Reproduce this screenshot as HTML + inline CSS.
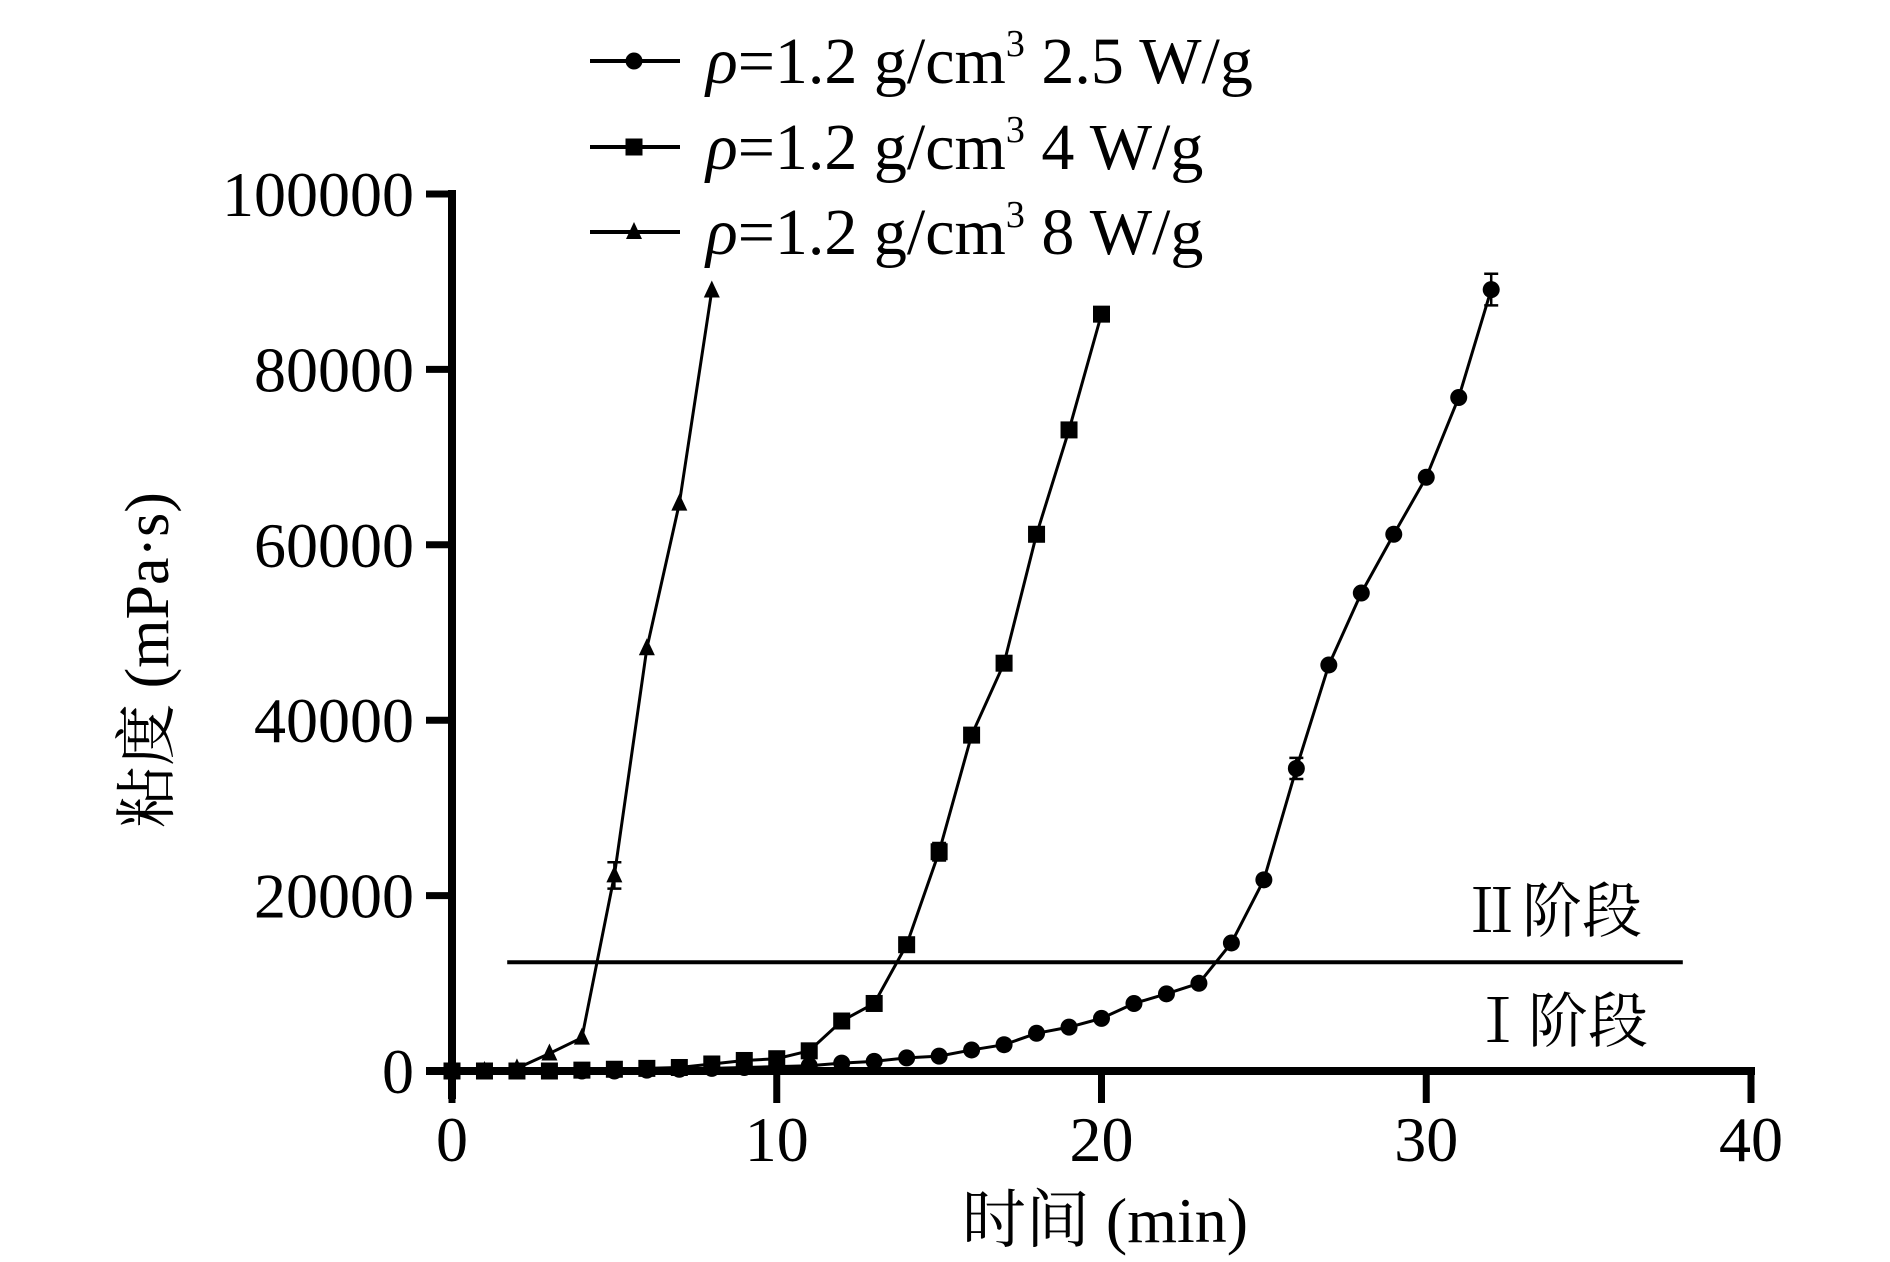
<!DOCTYPE html>
<html><head><meta charset="utf-8">
<style>
html,body{margin:0;padding:0;background:#fff;}
svg{display:block;}
text{font-family:"Liberation Serif","Noto Serif CJK SC","Noto Sans CJK SC",serif;fill:#000;}
</style></head>
<body>
<svg id="chart" width="1890" height="1262" viewBox="0 0 1890 1262" xmlns="http://www.w3.org/2000/svg">
  <g id="plot"></g>
  <g id="axes"></g>
  <g id="legend"></g>
</svg>
<script>
const xTicks = [0, 10, 20, 30, 40];
const yTicks = [0, 20000, 40000, 60000, 80000, 100000];
const tA = [0,1,2,3,4,5,6,7,8,9,10,11,12,13,14,15,16,17,18,19,20,21,22,23,24,25,26,27,28,29,30,31,32];
const vA = [0,0,0,0,0,0,100,200,300,400,500,600,900,1100,1500,1700,2400,3000,4300,5000,6000,7700,8800,10000,14600,21800,34500,46300,54500,61200,67700,76800,89100];
const eA = [0,0,0,0,0,0,0,0,0,0,0,0,0,0,0,0,0,0,0,0,0,0,0,0,0,0,1200,0,0,0,0,0,1800];
const tB = [0,1,2,3,4,5,6,7,8,9,10,11,12,13,14,15,16,17,18,19,20];
const vB = [0,0,0,0,100,200,300,400,800,1200,1400,2300,5700,7700,14400,25000,38300,46500,61200,73100,86300];
const eB = [0,0,0,0,0,0,0,0,0,0,0,0,0,0,0,1000,0,0,0,0,0];
const tC = [0,1,2,3,4,5,6,7,8];
const vC = [0,0,300,2000,3800,22300,48200,64700,89000];
const eC = [0,0,0,0,0,1500,0,0,0];
const stageThreshold = 12400;
const stageStart = 1.7, stageEnd = 37.9;

const NS = "http://www.w3.org/2000/svg";
const X0 = 452, X1 = 1751, Y0 = 1071, Y1 = 194;
function sx(t){ return X0 + (t - 0) / 40 * (X1 - X0); }
function sy(v){ return Y0 - v / 100000 * (Y0 - Y1); }
function mk(tag, attrs, parent){
  const e = document.createElementNS(NS, tag);
  for (const k in attrs) e.setAttribute(k, attrs[k]);
  parent.appendChild(e);
  return e;
}
const plot = document.getElementById('plot');
const axes = document.getElementById('axes');
const legend = document.getElementById('legend');

const sl = mk('line', {x1: sx(stageStart), x2: sx(stageEnd), y1: sy(stageThreshold), y2: sy(stageThreshold), stroke:'#000','stroke-width':4}, plot);



function marker(kind, cx, cy, g){
  let m;
  if (kind === 'circle') m = mk('circle', {cx, cy, r: 8.5, fill:'#000'}, g);
  else if (kind === 'square') m = mk('rect', {x: cx-8.5, y: cy-8.5, width: 17, height: 17, fill:'#000'}, g);
  else m = mk('polygon', {points: `${cx},${cy-10} ${cx-8},${cy+7} ${cx+8},${cy+7}`, fill:'#000'}, g);
  return m;
}
function series(ts, vs, es, kind, name){
  const g = mk('g', {}, plot);
  
  
  const pts = ts.map((t,i)=> sx(t)+','+sy(vs[i])).join(' ');
  const pl = mk('polyline', {points: pts, fill:'none', stroke:'#000', 'stroke-width':3, 'stroke-linejoin':'round'}, g);
  
  
  ts.forEach((t,i)=>{
    if (es[i] > 0){
      const x = sx(t), a = sy(vs[i]+es[i]), b = sy(vs[i]-es[i]);
      const eb = mk('path', {d:`M${x},${a}V${b}M${x-7},${a}H${x+7}M${x-7},${b}H${x+7}`, stroke:'#000','stroke-width':2.5, fill:'none'}, g);
      
      
    }
    const m = marker(kind, sx(t), sy(vs[i]), g);
    
    
  });
}
series(tA, vA, eA, 'circle', 'series-2-5-wg');
series(tB, vB, eB, 'square', 'series-4-wg');
series(tC, vC, eC, 'triangle', 'series-8-wg');

const ya = mk('line', {x1:X0, x2:X0, y1:Y1-4, y2:Y0+28, stroke:'#000','stroke-width':8}, axes);


const xa = mk('line', {x1:X0-26, x2:X1+4, y1:Y0, y2:Y0, stroke:'#000','stroke-width':8}, axes);


yTicks.forEach(v=>{
  const tk = mk('line', {x1:X0-26, x2:X0, y1:sy(v), y2:sy(v), stroke:'#000','stroke-width':7}, axes);
  
  
  const lb = mk('text', {x:X0-38, y:sy(v)+22, 'text-anchor':'end','font-size':64}, axes);
  lb.textContent = v;
  
  
});
xTicks.forEach(v=>{
  const tk = mk('line', {x1:sx(v), x2:sx(v), y1:Y0, y2:Y0+32, stroke:'#000','stroke-width':7}, axes);
  
  
  const lb = mk('text', {x:sx(v), y:Y0+90, 'text-anchor':'middle','font-size':64}, axes);
  lb.textContent = v;
  
  
});
const xt = mk('text', {x:1105, y:1242, 'text-anchor':'middle','font-size':64}, axes);
xt.textContent = '时间 (min)';


const yt = mk('text', {x:0, y:0, 'text-anchor':'middle','font-size':62, transform:'translate(168,660) rotate(-90)'}, axes);
yt.textContent = '粘度 (mPa·s)';


const s2 = mk('text', {x:1462, y:932, 'font-size':60}, axes);
s2.textContent = 'Ⅱ阶段';


const s1 = mk('text', {x:1468, y:1042, 'font-size':60}, axes);
s1.textContent = 'Ⅰ阶段';



const legY = [61, 147, 232];
const legKinds = ['circle','square','triangle'];
const legPower = ['2.5 W/g','4 W/g','8 W/g'];
legY.forEach((y,i)=>{
  const g = mk('g', {}, legend);
  
  
  mk('line', {x1:590, x2:680, y1:y, y2:y, stroke:'#000','stroke-width':4}, g);
  marker(legKinds[i], 634, y, g);
  const t = mk('text', {x:706, y:y+22, 'font-size':66}, g);
  t.innerHTML = '<tspan font-style="italic">ρ</tspan>=1.2 g/cm<tspan font-size="38" dy="-27">3</tspan><tspan dy="27"> ' + legPower[i] + '</tspan>';
});
</script>
</body></html>
